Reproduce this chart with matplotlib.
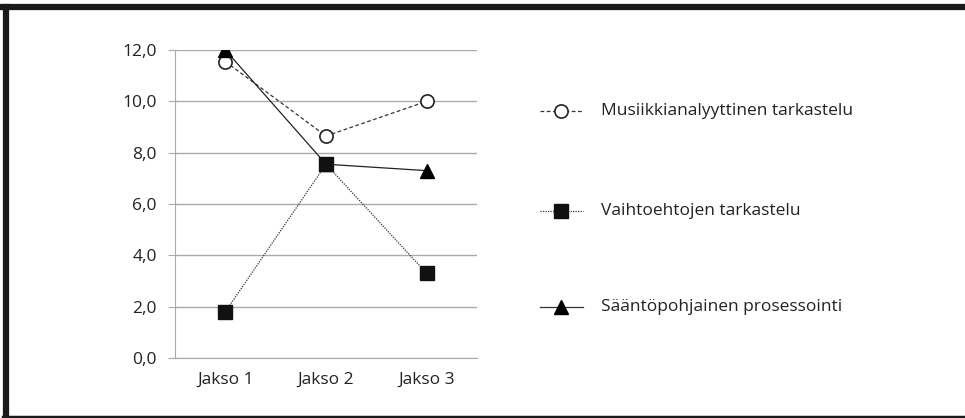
import numpy as np
import matplotlib
matplotlib.use("Agg")
from matplotlib import pyplot as plt

# Data
categories = ["Jakso 1", "Jakso 2", "Jakso 3"]
musiikki = [11.55, 8.65, 10.0]
vaihtoehdot = [1.8, 7.55, 3.3]
saanto = [12.0, 7.55, 7.3]
labels = ["Musiikkianalyyttinen tarkastelu",
          "Vaihtoehtojen tarkastelu",
          "Sääntöpohjainen prosessointi"]
yticks = [0, 2, 4, 6, 8, 10, 12]

plt.rcParams['font.family'] = ['Open Sans', 'DejaVu Sans']

fig = plt.figure(figsize=(9.65, 4.18), dpi=100)
W, H = 965, 418

# Plot area in pixels: x 175..477, y 50..358
ax = fig.add_axes([175 / W, 1 - 358 / H, 302 / W, 308 / H])
x = np.arange(1, len(categories) + 1)

ax.plot(x, musiikki, linestyle=(0, (3, 2)), color='#333333', lw=0.9,
        marker='o', ms=9.5, mfc='white', mec='#222222', mew=1.2, zorder=3)
ax.plot(x, saanto, linestyle='-', color='#222222', lw=0.9,
        marker='^', ms=10, mfc='black', mec='black', zorder=4)
ax.plot(x, vaihtoehdot, linestyle=(0, (1, 1)), color='#333333', lw=0.9,
        marker='s', ms=9.5, mfc='#111111', mec='#111111', zorder=5)

ax.set_xlim(0.5, 3.5)
ax.set_ylim(0, 12)
ax.set_yticks(yticks)
ax.set_yticklabels([f"{v:.1f}".replace('.', ',') for v in yticks], fontsize=12.5, color='#222222')
ax.set_xticks(x)
ax.set_xticklabels(categories, fontsize=12.5, color='#222222')
ax.grid(axis='y', color='#aaaaaa', lw=1.0)
ax.set_axisbelow(True)
for s in ['top', 'right']:
    ax.spines[s].set_visible(False)
ax.spines['left'].set_color('#aaaaaa')
ax.spines['bottom'].set_color('#aaaaaa')
ax.tick_params(axis='y', length=5, color='#aaaaaa', pad=8)
ax.tick_params(axis='x', length=0, pad=10)

# Legend drawn manually in figure pixels
rows_y = [111, 211, 307]
styles = [dict(linestyle=(0, (3, 2)), marker='o', ms=9.5, mfc='white', mec='#222222', mew=1.2),
          dict(linestyle=(0, (1, 1)), marker='s', ms=9.5, mfc='#111111', mec='#111111'),
          dict(linestyle='-', marker='^', ms=10, mfc='black', mec='black')]
for ry, lab, st in zip(rows_y, labels, styles):
    yf = 1 - ry / H
    fig.add_artist(plt.Line2D([540 / W, 583 / W], [yf, yf], color='#333333', lw=0.9,
                              linestyle=st['linestyle']))
    fig.add_artist(plt.Line2D([561 / W], [yf], lw=0,
                              **{k: v for k, v in st.items() if k != 'linestyle'}))
    fig.text(601 / W, yf, lab, fontsize=12.5, color='#222222', va='center', ha='left')

# Black frame: thick left and top edges, thinner bottom edge
frame = '#1a1a1a'
fig.add_artist(plt.Line2D([6 / W, 6 / W], [1 - 7 / H, 0], color=frame, lw=4.5))
fig.add_artist(plt.Line2D([3 / W, 1], [1 - 7 / H, 1 - 7 / H], color=frame, lw=4.5))
fig.add_artist(plt.Line2D([3 / W, 1], [1 - 417 / H, 1 - 417 / H], color=frame, lw=2.5))

fig.savefig('out.png', dpi=100)
